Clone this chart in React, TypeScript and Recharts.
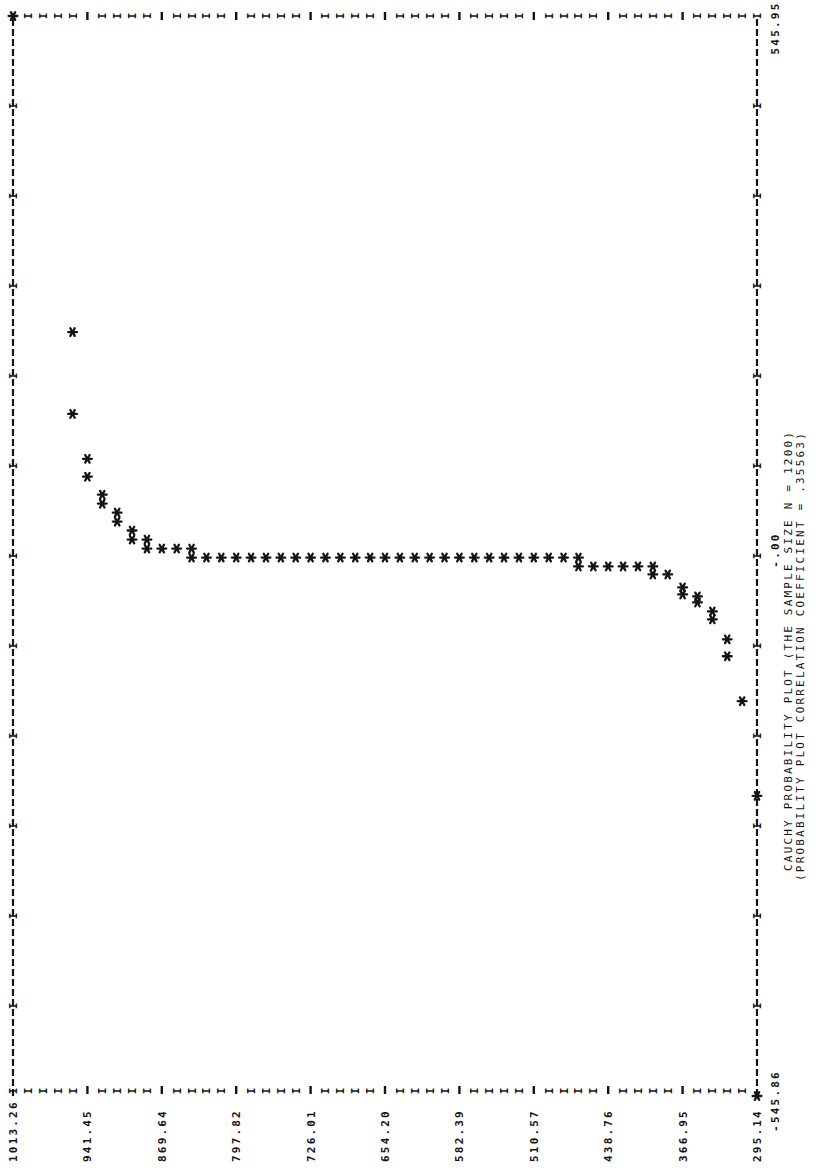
import React from 'react';
import { ScatterChart, Scatter, XAxis, YAxis } from 'recharts';

// ordered response values (one entry per printed "*")
const orderedValues = [
  1013.26,
  955.81, 955.81,
  941.45, 941.45,
  927.09, 927.09,
  912.72, 912.72,
  898.36, 898.36,
  884.0, 884.0,
  869.64,
  855.27,
  840.91, 840.91,
  826.55, 812.19, 797.82, 783.46, 769.1, 754.73, 740.37, 726.01, 711.65, 697.29,
  682.92, 668.56, 654.2, 639.84, 625.47, 611.11, 596.75, 582.39, 568.02, 553.66,
  539.3, 524.94, 510.57, 496.21, 481.85,
  467.49, 467.49,
  453.12, 438.76, 424.4, 410.04,
  395.68, 395.68,
  381.31,
  366.95, 366.95,
  352.59, 352.59,
  338.23, 338.23,
  323.86, 323.86,
  309.5,
  295.14, 295.14,
];

// matching Cauchy theoretical quantiles (horizontal position of each "*")
const cauchyQuantiles = [
  545.95,
  226.4, 143.7,
  98.3, 80.2,
  62.0, 53.0,
  43.9, 34.8,
  25.8, 16.7,
  16.7, 7.6,
  7.6,
  7.6,
  7.6, -1.5,
  -1.5, -1.5, -1.5, -1.5, -1.5, -1.5, -1.5, -1.5, -1.5, -1.5,
  -1.5, -1.5, -1.5, -1.5, -1.5, -1.5, -1.5, -1.5, -1.5, -1.5,
  -1.5, -1.5, -1.5, -1.5, -1.5,
  -1.5, -10.5,
  -10.5, -10.5, -10.5, -10.5,
  -10.5, -18.6,
  -18.6,
  -31.7, -38.8,
  -40.8, -46.9,
  -56.0, -64.0,
  -84.2, -101.3,
  -146.7,
  -242.4, -545.86,
];

const valueTickLabels = ['1013.26', '941.45', '869.64', '797.82', '726.01', '654.20', '582.39', '510.57', '438.76', '366.95', '295.14'];
const quantileTicks = [-545.86, -454.88, -363.89, -272.91, -181.92, -90.94, 0.04, 91.03, 182.01, 273.0, 363.98, 454.96, 545.95];
const quantileTickLabels = ['-545.86', '', '', '', '', '', '-.00', '', '', '', '', '', '545.95'];
const titleLines = [
  'CAUCHY PROBABILITY PLOT (THE SAMPLE SIZE N = 1200)',
  '(PROBABILITY PLOT CORRELATION COEFFICIENT = .35563)',
];

const Y_MIN = 295.14;
const Y_MAX = 1013.26;
const X_MIN = -545.86;
const X_MAX = 545.95;
const LINES = 50;
const Y_STEP = (Y_MAX - Y_MIN) / LINES;
const X_STEP = (X_MAX - X_MIN) / 12;
const lineTicks = Array.from({ length: LINES + 1 }, (_, i) => Y_MAX - i * Y_STEP);

const points = orderedValues.map((v, i) => ({ q: cauchyQuantiles[i], v }));

const W = 1168;
const H = 816;
const INK = '#141414';
const FONT = '"DejaVu Sans Mono", "Liberation Mono", monospace';

const txt = { fontFamily: FONT, fontSize: 11, letterSpacing: 2.2, fill: INK } as const;

function Dash({ x, y }: { x: number; y: number }) {
  return <line x1={x - 4} y1={y} x2={x + 4} y2={y} stroke={INK} strokeWidth={2.4} />;
}

function Glyph({ x, y, ch }: { x: number; y: number; ch: string }) {
  return <text x={x} y={y + 4} textAnchor="middle" {...txt} letterSpacing={0} fontWeight="bold">{ch}</text>;
}

function LeftTick(props: any) {
  const { x, y, payload } = props;
  const k = Math.round((Y_MAX - payload.value) / Y_STEP);
  const labeled = k % 5 === 0;
  const ax = x + 5;
  return (
    <g>
      {labeled && <text x={6} y={y + 4} {...txt} fontWeight="bold">{valueTickLabels[k / 5]}</text>}
      {k === LINES ? null : k === 0 || !labeled ? <Glyph x={ax} y={y} ch="I" /> : <Dash x={ax + 1} y={y} />}
    </g>
  );
}

function RightTick(props: any) {
  const { x, y, payload } = props;
  const k = Math.round((Y_MAX - payload.value) / Y_STEP);
  if (k === 0) return <g />;
  if (k % 5 === 0 && k !== LINES) return <Dash x={x} y={y} />;
  return <Glyph x={x} y={y} ch="I" />;
}

function TopTick(props: any) {
  const { x, y, payload } = props;
  const j = Math.round((payload.value - X_MIN) / X_STEP);
  if (j === 0 || j === 12) return <g />;
  return <Glyph x={x} y={y} ch="I" />;
}

function BottomTick(props: any) {
  const { x, y, payload } = props;
  const j = Math.round((payload.value - X_MIN) / X_STEP);
  const label = quantileTickLabels[j];
  const shift = j === 0 ? -5 : j === 12 ? -12 : 6;
  return (
    <g>
      {j !== 0 && j !== 12 && <Glyph x={x} y={y} ch="I" />}
      {label && (
        <text x={x + shift} y={y + 22} textAnchor="middle" {...txt} fontWeight="bold">{label}</text>
      )}
    </g>
  );
}

function Star(props: any) {
  const { cx, cy } = props;
  if (cx == null || cy == null) return <g />;
  const r = 4.4;
  const a = r * 0.866;
  const b = r * 0.5;
  return (
    <g stroke={INK} strokeWidth={2.3} strokeLinecap="round">
      <line x1={cx} y1={cy - r} x2={cx} y2={cy + r} />
      <line x1={cx - a} y1={cy - b} x2={cx + a} y2={cy + b} />
      <line x1={cx - a} y1={cy + b} x2={cx + a} y2={cy - b} />
      <circle cx={cx} cy={cy} r={2} fill={INK} stroke="none" />
    </g>
  );
}

function Blank() {
  return <g />;
}

const edge = { stroke: INK, strokeWidth: 2.2, strokeDasharray: '7 3' };

export default function App() {
  return (
    <div style={{ position: 'absolute', left: 0, top: 0, width: H, height: W, overflow: 'hidden', background: '#fff' }}>
      <div
        style={{
          position: 'absolute',
          left: 0,
          top: 0,
          width: W,
          height: H,
          transformOrigin: '0 0',
          transform: `translate(0px, ${W}px) rotate(-90deg)`,
        }}
      >
        <ScatterChart width={W} height={H} margin={{ top: 0, right: 0, bottom: 0, left: 0 }}>
          <XAxis
            xAxisId="b"
            type="number"
            dataKey="q"
            domain={[X_MIN, X_MAX]}
            orientation="bottom"
            height={59}
            ticks={quantileTicks}
            interval={0}
            tickSize={0}
            tickMargin={0}
            tickLine={false}
            axisLine={edge}
            tick={<BottomTick />}
          />
          <XAxis
            xAxisId="t"
            type="number"
            dataKey="q"
            domain={[X_MIN, X_MAX]}
            orientation="top"
            height={13}
            ticks={quantileTicks}
            interval={0}
            tickSize={0}
            tickMargin={0}
            tickLine={false}
            axisLine={edge}
            tick={<TopTick />}
          />
          <YAxis
            yAxisId="l"
            type="number"
            dataKey="v"
            domain={[Y_MIN, Y_MAX]}
            width={72}
            ticks={lineTicks}
            interval={0}
            tickSize={0}
            tickMargin={0}
            tickLine={false}
            axisLine={false}
            tick={<LeftTick />}
          />
          <YAxis
            yAxisId="r"
            type="number"
            dataKey="v"
            domain={[Y_MIN, Y_MAX]}
            orientation="right"
            width={16}
            ticks={lineTicks}
            interval={0}
            tickSize={0}
            tickMargin={0}
            tickLine={false}
            axisLine={false}
            tick={<RightTick />}
          />
          <Scatter data={points} xAxisId="t" yAxisId="r" shape={<Blank />} isAnimationActive={false} />
          <Scatter data={points} xAxisId="b" yAxisId="l" shape={<Star />} isAnimationActive={false} />
        </ScatterChart>
        {titleLines.map((line, i) => (
          <div
            key={line}
            style={{
              position: 'absolute',
              left: i === 0 ? 297 : 287,
              top: i === 0 ? 783 : 795,
              fontFamily: FONT,
              fontSize: 11,
              lineHeight: '12px',
              letterSpacing: 2.2,
              whiteSpace: 'pre',
              color: INK,
            }}
          >
            {line}
          </div>
        ))}
      </div>
    </div>
  );
}
